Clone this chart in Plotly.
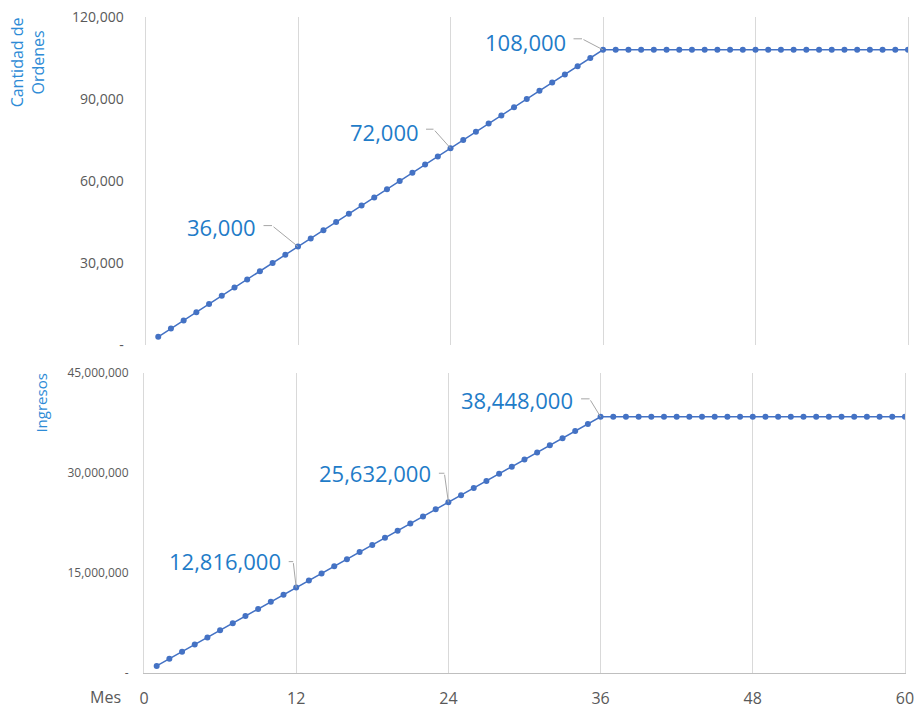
import plotly.graph_objects as go

months = list(range(1, 61))

orders = [3000, 6000, 9000, 12000, 15000, 18000, 21000, 24000, 27000, 30000,
          33000, 36000, 39000, 42000, 45000, 48000, 51000, 54000, 57000, 60000,
          63000, 66000, 69000, 72000, 75000, 78000, 81000, 84000, 87000, 90000,
          93000, 96000, 99000, 102000, 105000, 108000, 108000, 108000, 108000, 108000,
          108000, 108000, 108000, 108000, 108000, 108000, 108000, 108000, 108000, 108000,
          108000, 108000, 108000, 108000, 108000, 108000, 108000, 108000, 108000, 108000]

revenue = [1068000, 2136000, 3204000, 4272000, 5340000, 6408000, 7476000, 8544000, 9612000, 10680000,
           11748000, 12816000, 13884000, 14952000, 16020000, 17088000, 18156000, 19224000, 20292000, 21360000,
           22428000, 23496000, 24564000, 25632000, 26700000, 27768000, 28836000, 29904000, 30972000, 32040000,
           33108000, 34176000, 35244000, 36312000, 37380000, 38448000, 38448000, 38448000, 38448000, 38448000,
           38448000, 38448000, 38448000, 38448000, 38448000, 38448000, 38448000, 38448000, 38448000, 38448000,
           38448000, 38448000, 38448000, 38448000, 38448000, 38448000, 38448000, 38448000, 38448000, 38448000]

x_ticks = [0, 12, 24, 36, 48, 60]
orders_ticks = [0, 30000, 60000, 90000, 120000]
orders_ticktext = ["-", "30,000", "60,000", "90,000", "120,000"]
revenue_ticks = [0, 15000000, 30000000, 45000000]
revenue_ticktext = ["-", "15,000,000", "30,000,000", "45,000,000"]
label_months = [12, 24, 36]

LINE = "#4472C4"
GRID = "#D9D9D9"
TICK = "#595959"
ANN = "#1F7CC8"
TITLE = "#2D8BD6"
LEADER = "#A6A6A6"
FONT = "Open Sans"

fig = go.Figure()
fig.add_trace(go.Scatter(x=months, y=orders, mode="lines+markers",
                         line=dict(color=LINE, width=1.5),
                         marker=dict(color=LINE, size=6),
                         xaxis="x", yaxis="y", showlegend=False, hoverinfo="skip"))
fig.add_trace(go.Scatter(x=months, y=revenue, mode="lines+markers",
                         line=dict(color=LINE, width=1.5),
                         marker=dict(color=LINE, size=6),
                         xaxis="x2", yaxis="y2", showlegend=False, hoverinfo="skip"))

# label styling: (elbow end offset, elbow length, text right offset, text y offset) in px
top_style = [((-26, -21), 10, -40, -20), ((-17, -19), 9, -30, -16), ((-21, -11), 10, -35, -8)]
bot_style = [((-3, -26), 6, -13, -27), ((-4, -29), 7, -15, -29), ((-11, -18), 10, -26, -17)]

anns = []


def add_label(x, y, xr, yr, style):
    (ex, ey), elen, tx, ty = style
    # diagonal leader from point to elbow
    anns.append(dict(x=x, y=y, xref=xr, yref=yr, text="", showarrow=True,
                     arrowhead=0, arrowwidth=1, arrowcolor=LEADER,
                     ax=ex, ay=ey, standoff=0))
    # horizontal part of leader
    anns.append(dict(x=x, y=y, xref=xr, yref=yr, text="", showarrow=True,
                     arrowhead=0, arrowwidth=1, arrowcolor=LEADER,
                     xshift=ex, yshift=-ey, ax=-elen, ay=0, standoff=0))
    anns.append(dict(x=x, y=y, xref=xr, yref=yr, text=f"{y:,}", showarrow=False,
                     xanchor="right", yanchor="middle", xshift=tx, yshift=-ty,
                     font=dict(family=FONT, size=22, color=ANN)))


for m, st in zip(label_months, top_style):
    add_label(m, orders[m - 1], "x", "y", st)
for m, st in zip(label_months, bot_style):
    add_label(m, revenue[m - 1], "x2", "y2", st)

anns.append(dict(text="Cantidad de<br>Ordenes", xref="paper", yref="paper",
                 x=-0.153, y=0.931, xanchor="center", yanchor="middle",
                 textangle=-90, showarrow=False,
                 font=dict(family=FONT, size=16, color=TITLE)))
anns.append(dict(text="Ingresos", xref="paper", yref="paper",
                 x=-0.135, y=0.412, xanchor="center", yanchor="middle",
                 textangle=-90, showarrow=False,
                 font=dict(family=FONT, size=15, color=TITLE)))
anns.append(dict(text="Mes", xref="paper", yref="paper",
                 x=-0.051, y=-0.037, xanchor="center", yanchor="middle",
                 showarrow=False,
                 font=dict(family=FONT, size=16, color=TICK)))

fig.update_layout(
    width=917, height=709,
    margin=dict(l=144, r=9, t=17, b=36, autoexpand=False),
    paper_bgcolor="white", plot_bgcolor="white",
    font=dict(family=FONT, color=TICK),
    annotations=anns,
    xaxis=dict(domain=[0.002, 1], anchor="y", range=[0, 60], automargin=False,
               tickvals=x_ticks, showticklabels=False,
               showgrid=True, gridcolor=GRID, gridwidth=1,
               zeroline=False, showline=False),
    yaxis=dict(domain=[0.5, 1], anchor="x", range=[0, 120000], automargin=False,
               tickvals=orders_ticks, ticktext=orders_ticktext,
               tickfont=dict(family=FONT, size=14, color=TICK),
               ticklabelstandoff=18,
               showgrid=False, zeroline=False,
               showline=True, linecolor=GRID, mirror=True),
    xaxis2=dict(domain=[0, 0.996], anchor="y2", range=[0, 60], automargin=False,
                tickvals=x_ticks,
                tickfont=dict(family=FONT, size=16, color=TICK),
                ticklabelstandoff=11,
                showgrid=True, gridcolor=GRID, gridwidth=1,
                zeroline=False, showline=True, linecolor="#BFBFBF"),
    yaxis2=dict(domain=[0, 0.457], anchor="x2", range=[0, 45000000], automargin=False,
                tickvals=revenue_ticks, ticktext=revenue_ticktext,
                tickfont=dict(family=FONT, size=12, color=TICK),
                ticklabelstandoff=12,
                showgrid=False, zeroline=False,
                showline=True, linecolor=GRID, mirror=True),
)

fig.write_html("out.html")
